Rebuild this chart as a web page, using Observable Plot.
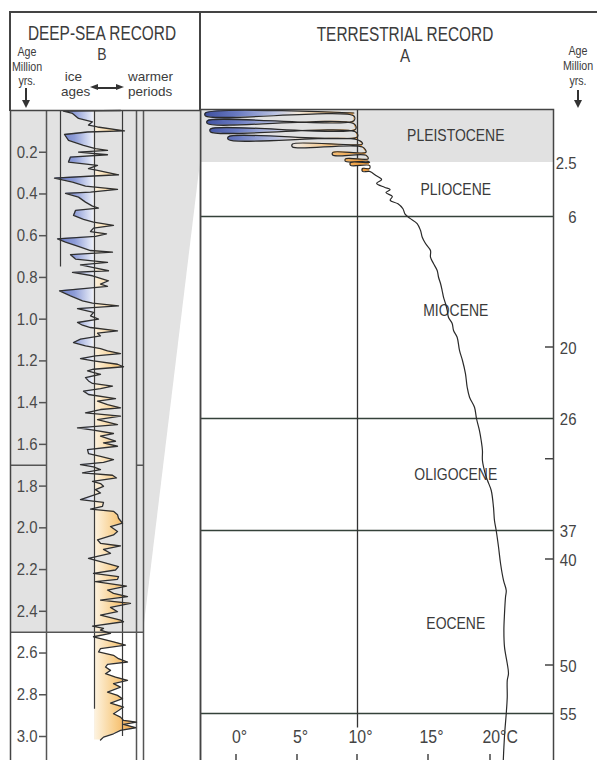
<!DOCTYPE html>
<html>
<head>
<meta charset="utf-8">
<script src="https://cdn.jsdelivr.net/npm/d3@7"></script>
<script src="https://cdn.jsdelivr.net/npm/@observablehq/plot@0.6"></script>
<style>
  html,body{margin:0;padding:0;background:#fff;}
  #wrap{position:relative;width:597px;height:760px;overflow:hidden;background:#fff;
        font-family:'Liberation Sans',Arial,sans-serif;color:#3c3c3c;}
  #wrap > svg{position:absolute;left:0;top:0;}
  .ln{position:absolute;background:#444;}
  .t{position:absolute;line-height:1;white-space:nowrap;}
  .c{transform:translateX(-50%) scaleX(0.82);}
  .ct{transform:translateX(-50%) scaleX(0.79);}
  .m{text-align:center;transform:translateX(-50%) scaleX(0.82);}
  .l{line-height:15.5px;}
  .tri-d{position:absolute;width:0;height:0;border-left:4px solid transparent;border-right:4px solid transparent;border-top:8px solid #333;}
  .tri-l{position:absolute;width:0;height:0;border-top:3.5px solid transparent;border-bottom:3.5px solid transparent;border-right:8px solid #333;}
  .tri-r{position:absolute;width:0;height:0;border-top:3.5px solid transparent;border-bottom:3.5px solid transparent;border-left:8px solid #333;}
</style>
</head>
<body>
<div id="wrap">
  <div class="ln" style="left:9px;top:11px;width:588px;height:1.5px"></div>
  <div class="ln" style="left:9.25px;top:11px;width:1.5px;height:100px"></div>
  <div class="ln" style="left:199.25px;top:11px;width:1.5px;height:100px"></div>

  <div class="t ct" style="left:102px;top:23.5px;font-size:19.5px">DEEP-SEA RECORD</div>
  <div class="t c" style="left:102px;top:45.5px;font-size:17px">B</div>
  <div class="t m" style="left:27px;top:45px;font-size:13px;line-height:14.5px">Age<br>Million<br>yrs.</div>
  <div class="ln" style="left:25.25px;top:88px;width:1.5px;height:13px;background:#333"></div>
  <div class="tri-d" style="left:22px;top:100px"></div>
  <div class="t l" style="left:61px;top:68.5px;font-size:13.5px">&nbsp;ice<br>ages</div>
  <div class="ln" style="left:96px;top:87px;width:21px;height:1.5px;background:#333"></div>
  <div class="tri-l" style="left:90px;top:84.25px"></div>
  <div class="tri-r" style="left:116px;top:84.25px"></div>
  <div class="t l" style="left:128px;top:68.5px;font-size:13.5px">warmer<br>periods</div>

  <div class="t ct" style="left:405px;top:24.5px;font-size:19.5px">TERRESTRIAL RECORD</div>
  <div class="t c" style="left:405px;top:47px;font-size:18.5px">A</div>
  <div class="t m" style="left:578px;top:43px;font-size:13px;line-height:15px">Age<br>Million<br>yrs.</div>
  <div class="ln" style="left:577.25px;top:90px;width:1.5px;height:11px;background:#333"></div>
  <div class="tri-d" style="left:574px;top:100px"></div>
</div>
<script>
const FONT = "'Liberation Sans',Arial,sans-serif";

// ---------------- DATA ----------------
// Deep-sea record B: age (Myr) and relative climate value (negative = ice ages, positive = warmer)
const deepAge = [
  0.000,0.003,0.014,0.038,0.054,0.070,0.079,0.098,0.103,0.115,
  0.143,0.167,0.183,0.191,0.199,0.212,0.223,0.247,0.263,0.279,
  0.287,0.308,0.314,0.324,0.343,0.362,0.378,0.391,0.397,0.415,
  0.439,0.458,0.468,0.479,0.503,0.522,0.535,0.551,0.564,0.580,
  0.591,0.603,0.615,0.631,0.655,0.671,0.679,0.691,0.712,0.728,
  0.740,0.752,0.768,0.776,0.792,0.816,0.832,0.843,0.864,0.888,
  0.912,0.923,0.936,0.949,0.968,0.984,
  1.000,1.016,1.029,1.040,1.056,1.067,1.080,1.096,1.112,1.128,
  1.141,1.152,1.165,1.176,1.189,1.200,1.216,1.228,1.240,1.248,
  1.264,1.280,1.296,1.308,1.321,1.333,1.345,1.361,1.381,1.393,
  1.409,1.425,1.433,1.449,1.465,1.481,1.505,1.521,1.532,1.548,
  1.561,1.585,1.593,1.609,1.625,1.644,1.657,1.673,1.686,1.697,
  1.708,1.721,1.737,1.748,1.761,1.777,1.788,1.801,1.817,1.833,
  1.865,1.878,1.897,1.910,1.921,1.937,1.954,1.978,1.994,
  2.018,2.034,2.058,2.074,2.087,2.103,2.122,2.146,2.162,2.186,
  2.202,2.218,2.234,2.247,2.258,2.279,2.298,2.314,2.330,2.346,
  2.362,2.381,2.402,2.418,2.442,2.450,2.471,2.482,2.490,2.506,
  2.522,2.546,2.562,2.579,2.595,2.611,2.627,2.643,2.654,2.667,
  2.683,2.699,2.715,2.731,2.747,2.763,2.787,2.803,2.819,2.840,
  2.859,2.875,2.891,2.907,2.923,2.931,2.942,2.958,2.971,2.987,
  3.003,3.017
];
const deepValue = [
  2.6,-3.1,-2.2,-1.6,-0.2,-0.6,0.3,3.0,-0.7,-3.0,
  -2.6,-1.1,0.1,1.3,-1.6,1.3,-2.4,-2.6,0.3,-0.6,
  0.3,2.4,-0.1,-4.0,-2.2,-0.9,2.3,-0.4,-2.9,-1.6,
  -0.9,-0.2,0.4,-1.9,-2.1,-1.1,-0.1,1.9,-0.1,-0.4,
  1.2,0.1,-3.7,-2.9,-1.4,-0.4,1.8,-2.4,-1.9,1.3,
  -1.4,-0.2,1.4,-2.2,-0.2,1.4,0.6,1.3,-3.5,-2.4,
  -1.2,-0.2,2.4,-1.7,-0.1,-0.4,
  0.4,-1.7,-1.2,-0.4,2.3,0.3,0.6,-1.4,-2.1,-0.9,
  0.6,1.3,2.6,0.1,-1.4,-0.1,2.3,2.9,-0.1,-0.7,
  0.6,-0.9,-0.6,-0.2,1.8,0.6,-1.1,-0.6,2.1,0.3,
  1.3,2.6,0.6,-0.9,2.6,0.3,2.3,-1.7,-0.1,1.9,
  0.6,2.1,0.9,2.3,-0.7,-0.6,0.6,1.9,0.9,-1.4,
  -0.1,0.6,-1.2,1.8,2.2,-0.2,0.6,0.9,0.1,0.6,
  -1.4,0.9,0.8,-0.4,1.9,2.3,2.4,2.8,1.6,
  2.3,1.9,0.3,0.6,2.6,0.9,1.6,-0.6,0.6,2.4,
  2.1,-0.1,2.4,2.3,0.1,3.2,1.3,1.9,3.3,0.6,
  3.6,1.6,2.3,0.6,2.6,2.9,-0.2,0.9,0.6,1.6,
  -0.1,1.9,3.1,0.6,0.4,1.9,2.4,3.3,1.3,1.1,
  1.6,1.1,2.1,3.3,1.9,2.6,1.3,2.3,2.8,1.6,
  2.9,2.4,1.9,2.6,2.9,4.2,2.9,4.1,2.6,1.9,
  0.9,0.6
];
const leftAgeTicks = [0.2,0.4,0.6,0.8,1.0,1.2,1.4,1.6,1.8,2.0,2.2,2.4,2.6,2.8,3.0];

// Terrestrial record A: glacial loops (age of upper/lower stroke, cold and warm extreme, °C)
const loopAgeTop    = [0.166,0.529,0.921,1.284,1.628,2.020,2.33,2.50,2.89];
const loopAgeBottom = [0.306,0.669,1.061,1.424,1.768,2.160,2.45,2.69,3.08];
const loopCold      = [-2.54,-2.38,-2.13,-0.66,4.59,7.95,9.0,9.42,10.35];
const loopWarm      = [9.7,9.7,9.85,10.0,10.35,10.6,10.75,10.85,10.85];
// Terrestrial record A: long-term temperature trend (age Myr, °C)
const trendAge = [3.34,3.60,3.85,4.10,4.25,4.45,4.70,4.95,5.18,5.50,5.85,6.20,
  6.75,7.50,8.21,8.89,9.63,10.35,11.02,11.77,12.49,13.16,13.91,14.62,15.30,16.04,16.76,
  17.43,18.18,18.90,20.25,21.10,22.20,23.36,24.20,25.05,26.0,27.18,28.16,29.14,30.13,
  31.40,32.09,33.07,34.71,36.02,37.0,38.73,40.38,41.98,42.92,43.56,45.09,46.70,48.27,
  49.81,50.83,51.56,53.30,55.0,56.77,58.51,59.9];
const trendTemp = [11.3,11.7,11.35,11.9,12.3,12.0,12.45,12.3,12.85,13.2,13.35,13.7,
  14.20,14.44,14.56,14.79,15.16,15.16,15.40,15.70,15.81,15.97,16.10,16.21,16.37,16.51,16.61,
  16.91,17.02,17.31,17.50,17.74,17.98,18.12,18.31,18.71,18.87,19.11,19.25,19.35,19.35,
  19.57,19.76,20.06,20.24,20.32,20.46,20.65,20.81,21.05,21.27,21.21,21.13,21.08,21.13,
  21.35,21.45,21.35,21.35,21.27,21.16,21.08,21.03];

const epochNames = ["PLEISTOCENE","PLIOCENE","MIOCENE","OLIGOCENE","EOCENE"];
const epochStart = [0, 2.5, 6, 26, 37];
const epochEnd   = [2.5, 6, 26, 37, 55];
const rightAgeLabels = [2.5, 6, 20, 26, 37, 40, 50, 55];
const rightAgeTicks = [20, 30, 40, 50];
const tempTicks = [0, 5, 10, 15, 20];

// ---------------- SCALES (layout: piecewise age and temperature axes) ----------------
const ageKnots   = [0, 2.5, 6, 20, 26, 37, 40, 50, 55, 60];
const ageKnotPx  = [109, 162, 216, 347, 418, 530, 559, 665, 713, 761];
const tempKnots  = [0, 5, 10, 15, 20];
const tempKnotPx = [236, 297, 357, 428, 490];
const ageWarp  = d3.scaleLinear().domain(ageKnots).range(ageKnotPx);
const tempWarp = d3.scaleLinear().domain(tempKnots).range(tempKnotPx);

// ---------------- BUILD ----------------
const deep = deepAge.map((a, i) => ({age: a, v: deepValue[i]}));
const terr = [];
loopAgeTop.forEach((a1, i) => {
  const a2 = loopAgeBottom[i], L = loopCold[i], R = loopWarm[i];
  terr.push({age: a1, t: R, base: R}, {age: a1, t: L, base: R},
            {age: a2, t: L, base: R}, {age: a2, t: R, base: R});
});
const nLoop = terr.length;
trendAge.forEach((a, i) => terr.push({age: a, t: trendTemp[i], base: trendTemp[i]}));
const loops = terr.slice(0, nLoop + 1);
const epochs = epochNames.map((n, i) => ({name: n, start: epochStart[i], end: epochEnd[i]}));

function addGradient(svg, id, x1, x2, stops) {
  const defs = d3.select(svg).insert("defs", ":first-child");
  const lg = defs.append("linearGradient").attr("id", id)
    .attr("gradientUnits", "userSpaceOnUse")
    .attr("x1", x1).attr("x2", x2).attr("y1", 0).attr("y2", 0);
  stops.forEach(([o, c]) => lg.append("stop").attr("offset", o).attr("stop-color", c));
}

const rightPlot = Plot.plot({
  width: 597, height: 760,
  marginLeft: 200, marginRight: 44, marginTop: 109, marginBottom: -3,
  style: {background: "none", fontFamily: FONT, overflow: "visible"},
  x: {transform: t => tempWarp(t), domain: [236, 490], range: [236, 490], axis: null},
  y: {transform: a => ageWarp(a), domain: [109, 761], range: [109, 761], axis: null},
  marks: [
    Plot.rect([0], {y1: 0, y2: 2.5, fill: "#e1e1e1"}),
    Plot.ruleY([6, 26, 37, 55], {stroke: "#34423a", strokeWidth: 1.7}),
    Plot.ruleX([10], {y1: 0, y2: 56.5, stroke: "#333", strokeWidth: 1.3}),
    Plot.text(epochs, {x: 17.2, y: d => (d.start + d.end) / 2, text: "name",
      fontSize: 17, fill: "#3a3a3a", fontFamily: FONT}),
    Plot.areaX(loops, {y: "age", x1: "base", x2: "t", curve: "catmull-rom", fill: "url(#loopGrad)"}),
    Plot.line(terr, {x: "t", y: "age", curve: "catmull-rom", stroke: "#2a2a2a", strokeWidth: 1.2}),
    Plot.frame({stroke: "#444", strokeWidth: 1.5}),
    Plot.text(rightAgeLabels, {y: d => d, text: d => String(d), frameAnchor: "right", dx: 23, dy: 1,
      fontSize: 17, fill: "#444", fontFamily: FONT}),
    Plot.text(tempTicks.filter(t => t < 20), {x: d => d, text: d => d + "°", frameAnchor: "bottom",
      dy: -21, dx: 3, fontSize: 18, fill: "#444", fontFamily: FONT}),
    Plot.text([20], {x: d => d, text: () => "20°C", frameAnchor: "bottom", dy: -21, dx: -8,
      textAnchor: "start", fontSize: 18, fill: "#444", fontFamily: FONT})
  ]
});
addGradient(rightPlot, "loopGrad", tempWarp(-2.6), tempWarp(11.0), [
  [0, "#3f50a0"], [0.2, "#6a7bc2"], [0.42, "#b8c1e2"], [0.56, "#f1e7da"],
  [0.76, "#f5c07a"], [1, "#e9922e"]]);
{
  const g = d3.select(rightPlot).append("g").attr("stroke", "#444").attr("stroke-width", 1.5);
  const xr = 597 - 44;
  rightAgeTicks.forEach(a => g.append("line").attr("x1", xr - 8).attr("x2", xr)
    .attr("y1", ageWarp(a)).attr("y2", ageWarp(a)));
  tempTicks.forEach(t => g.append("line").attr("x1", tempWarp(t)).attr("x2", tempWarp(t))
    .attr("y1", 754).attr("y2", 760));
}

const leftYDomain = [0, 3], leftYRange = [110, 736];
const aStar = (ageWarp(2.5) - leftYRange[0]) / (leftYRange[1] - leftYRange[0]) * (leftYDomain[1] - leftYDomain[0]);
const grayPoly = [{age: 0, right: 10.6}, {age: aStar, right: 10.6}, {age: 2.5, right: 4.9}];
const guides = [{x: -3.4, end: 0.75}, {x: 0, end: 2.87}, {x: 2.8, end: 3.0}];
const hSegs = [{y: 1.7, x1: -8.4, x2: -4.8}, {y: 1.7, x1: 4.2, x2: 4.9}, {y: 2.5, x1: -8.4, x2: 4.9}];

const leftPlot = Plot.plot({
  width: 597, height: 760,
  marginLeft: 10, marginRight: 397, marginTop: 110, marginBottom: -3,
  style: {background: "none", fontFamily: FONT, overflow: "visible"},
  x: {domain: [-8.4, 10.6], range: [10, 200], axis: null},
  y: {domain: leftYDomain, range: leftYRange, axis: null},
  marks: [
    Plot.areaX(grayPoly, {y: "age", x1: -8.4, x2: "right", fill: "#e2e2e2"}),
    Plot.areaX(deep, {y: "age", x1: 0, x2: "v", fill: "url(#deepGrad)"}),
    Plot.ruleX(guides, {x: "x", y1: 0, y2: "end", stroke: "#3a3a3a", strokeWidth: 1.2}),
    Plot.ruleX([-4.8, 4.2, 4.9], {stroke: "#555", strokeWidth: 1.5}),
    Plot.ruleY(hSegs, {y: "y", x1: "x1", x2: "x2", stroke: "#555", strokeWidth: 1.5}),
    Plot.ruleY(leftAgeTicks, {x1: -5.5, x2: -4.8, stroke: "#555", strokeWidth: 1.5}),
    Plot.text(leftAgeTicks, {x: -5.7, y: d => d, text: d => d.toFixed(1), textAnchor: "end",
      fontSize: 17, fill: "#4a4a4a", fontFamily: FONT}),
    Plot.line(deep, {x: "v", y: "age", stroke: "#2f2f2f", strokeWidth: 1.3}),
    Plot.frame({stroke: "#444", strokeWidth: 1.5})
  ]
});
const lx = leftPlot.scale("x");
addGradient(leftPlot, "deepGrad", lx.apply(-4), lx.apply(4.2), [
  [0, "#5f70c0"], [0.25, "#8e9dd8"], [0.47, "#e9edf8"], [0.5, "#fdf2de"],
  [0.75, "#f8cd88"], [1, "#f0a040"]]);

const wrap = document.getElementById("wrap");
wrap.append(rightPlot, leftPlot);

// condense SVG labels to the narrow face of the original lettering
function condense(svg) {
  svg.querySelectorAll("text").forEach(el => {
    const k = /[A-Z]{3,}/.test(el.textContent) ? 0.82 : 0.88;
    const len = el.getComputedTextLength();
    if (len > 0) {
      el.setAttribute("textLength", (len * k).toFixed(2));
      el.setAttribute("lengthAdjust", "spacingAndGlyphs");
    }
  });
}
condense(rightPlot);
condense(leftPlot);
</script>
</body>
</html>
